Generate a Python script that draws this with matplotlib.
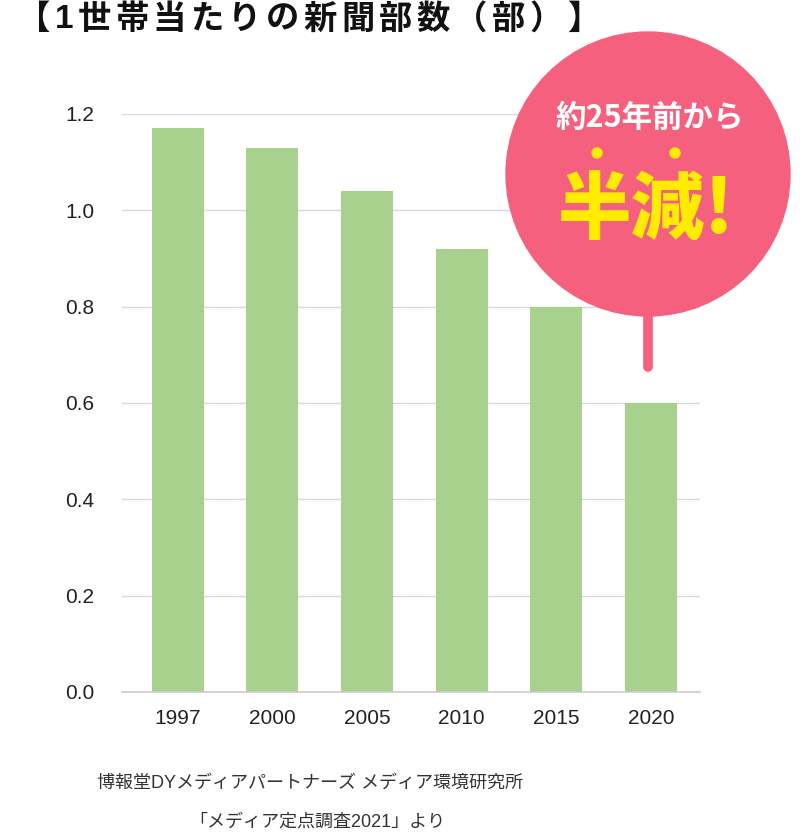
import matplotlib.pyplot as plt
from matplotlib.patches import Circle
import numpy as np

years = ['1997', '2000', '2005', '2010', '2015', '2020']
copies = [1.17, 1.13, 1.04, 0.92, 0.80, 0.60]
yticks = [0.0, 0.2, 0.4, 0.6, 0.8, 1.0, 1.2]

title = '【1世帯当たりの新聞部数（部）】'
source_lines = ['博報堂DYメディアパートナーズ メディア環境研究所', '「メディア定点調査2021」より']
bubble_small = '約25年前から'
bubble_big = '半減!'

plt.rcParams['font.family'] = ['Liberation Sans', 'Noto Sans CJK JP']

fig = plt.figure(figsize=(8, 8.4), dpi=100)
ax = fig.add_axes([0.1525, 0.1762, 0.7225, 0.6881])

x = np.arange(len(years))
ax.bar(x, copies, width=0.55, color='#a9d18e', zorder=2)
ax.axhline(0, color='#cccccc', linewidth=1.2, zorder=3, clip_on=False)
ax.set_xlim(-0.59, len(years) - 1 + 0.52)
ax.set_ylim(0, 1.2)
ax.set_yticks(yticks)
ax.set_yticklabels([f'{v:.1f}' for v in yticks])
ax.set_xticks(x)
ax.set_xticklabels(years)
ax.tick_params(length=0, labelsize=15, colors='#222222')
ax.tick_params(axis='y', pad=20)
ax.tick_params(axis='x', pad=12)
ax.grid(axis='y', color='#d9d9d9', linewidth=1, zorder=0)
for s in ax.spines.values():
    s.set_visible(False)

# title, drawn char by char for wider letter spacing
renderer = fig.canvas.get_renderer()
xpos = 17
for ch in title:
    t = fig.text(xpos / 800, 1 - 20 / 840, ch, fontsize=24, fontweight='bold',
                 color='#111111', ha='left', va='center')
    xpos += t.get_window_extent(renderer).width + 4.3

# source
fig.text(0.388, 1 - 783 / 840, source_lines[0], fontsize=13, color='#333333',
         ha='center', va='center')
fig.text(0.397, 1 - 822 / 840, source_lines[1], fontsize=13, color='#333333',
         ha='center', va='center')

# speech bubble overlay (pixel coordinates)
ov = fig.add_axes([0, 0, 1, 1], facecolor='none')
ov.set_xlim(0, 800)
ov.set_ylim(840, 0)
ov.axis('off')
pink = '#f6607f'
yellow = '#ffec00'
ov.plot([648, 648], [300, 367], color=pink, linewidth=7, solid_capstyle='round')
ov.add_patch(Circle((648, 174), 142, color=pink, zorder=3))
ov.text(650, 118, bubble_small, fontsize=22, fontweight='bold', color='white',
        ha='center', va='center', zorder=4, family=['Noto Sans CJK JP'])
ov.add_patch(Circle((597, 153), 5, color=yellow, zorder=4))
ov.add_patch(Circle((675, 153), 5, color=yellow, zorder=4))
ov.text(646, 212, bubble_big, fontsize=53, fontweight='black', color=yellow,
        ha='center', va='center', zorder=4, family=['Noto Sans CJK JP'])

fig.savefig('out.png', dpi=100)
